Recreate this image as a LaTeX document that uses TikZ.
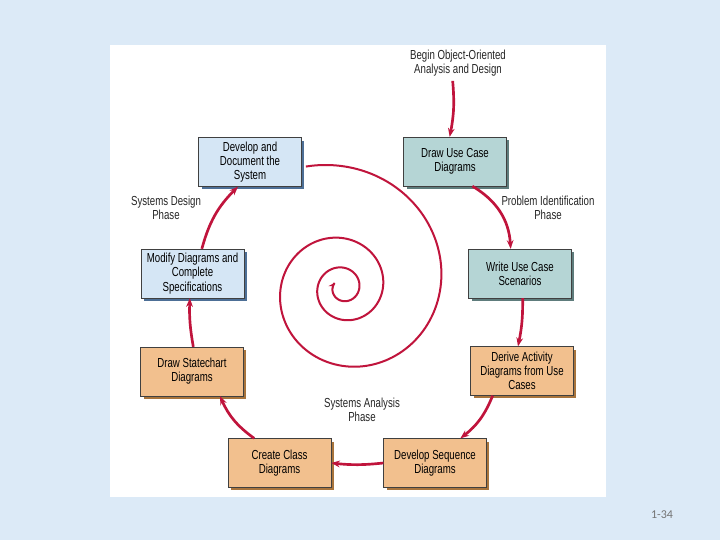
\documentclass[tikz,border=0pt]{standalone}
\usepackage{fontspec}
\setmainfont{Liberation Sans}[FakeStretch=0.74]
\newfontfamily\slidefont{Carlito}
\usepackage{tikz}
\usetikzlibrary{arrows.meta,positioning,calc,shadows}
\definecolor{slidebg}{HTML}{DCEAF7}
\definecolor{spiralred}{HTML}{C0143C}
\definecolor{designfill}{HTML}{D5E6F5}
\definecolor{designshade}{HTML}{4D6F96}
\definecolor{problemfill}{HTML}{B5D5D5}
\definecolor{problemshade}{HTML}{5E7C7C}
\definecolor{analysisfill}{HTML}{F2C08E}
\definecolor{analysisshade}{HTML}{A8743C}
\tikzset{
  >=Stealth,
  every node/.append style={font=\fontsize{9.8}{10.6}\selectfont},
}
\tikzset{
  phasebox/.style={draw=black!75, line width=0.5pt, align=center, inner sep=2pt,
    minimum width=77pt, minimum height=36.5pt},
  flow/.style={-{Stealth[length=6.5pt,width=5pt]}, line width=2pt, draw=spiralred},
  phaselabel/.style={align=center, text=black!85}
}
\begin{document}
\begin{tikzpicture}[x=0.75pt, y=-0.75pt,
  design/.style={phasebox, fill=designfill,
    drop shadow={shadow xshift=2.3pt, shadow yshift=-2.3pt, fill=designshade, opacity=1}},
  problem/.style={phasebox, fill=problemfill,
    drop shadow={shadow xshift=2.3pt, shadow yshift=-2.3pt, fill=problemshade, opacity=1}},
  analysis/.style={phasebox, fill=analysisfill,
    drop shadow={shadow xshift=2.3pt, shadow yshift=-2.3pt, fill=analysisshade, opacity=1}}
]
\useasboundingbox (0,0) rectangle (720,540);

% Slide and white panel
\fill[slidebg] (0,0) rectangle (720,540);
\fill[white] (110,45) rectangle (606,497);

% Spiral in the middle
\draw[spiralred, line width=1.5pt, -{Stealth[length=5pt,width=4pt]}]
  plot[domain=0:1040, samples=400, smooth]
  ({343+127*0.8^(\x/90)*cos(-107+\x)}, {288+127*0.8^(\x/90)*sin(-107+\x)});

% Phase boxes - clockwise from the top
\node[problem] (usecase) at (455,161.5) {Draw Use Case\\Diagrams};
\node[problem] (scenario) at (520,273.5) {Write Use Case\\Scenarios};
\node[analysis] (activity) at (522,371) {Derive Activity\\Diagrams from Use\\Cases};
\node[analysis] (sequence) at (435,463) {Develop Sequence\\Diagrams};
\node[analysis] (classdia) at (279.5,463) {Create Class\\Diagrams};
\node[analysis] (statechart) at (192,371.5) {Draw Statechart\\Diagrams};
\node[design] (modify) at (192.5,273.5) {Modify Diagrams and\\Complete\\Specifications};
\node[design] (document) at (250,162) {Develop and\\Document the\\System};

% Phase labels
\node[phaselabel] (begin) at (458,63) {Begin Object-Oriented\\Analysis and Design};
\node[phaselabel] (problemph) at (548,208) {Problem Identification\\Phase};
\node[phaselabel] (designph) at (166,208) {Systems Design\\Phase};
\node[phaselabel] (analysisph) at (362,410) {Systems Analysis\\Phase};

% Connectors
\draw[flow] ([xshift=-4pt]begin.south) to[bend left=8] ([xshift=-4pt]usecase.north);
\draw[flow] ([xshift=13pt]usecase.south) to[bend left=28] ([xshift=-7pt]scenario.north);
\draw[flow] ([xshift=2pt]scenario.south) to[bend left=6] ([xshift=-3pt]activity.north);
\draw[flow] ([xshift=-22pt]activity.south) to[bend left=15] ([xshift=19pt]sequence.north);
\draw[flow] (sequence.west) to[bend left=6] (classdia.east);
\draw[flow] ([xshift=-19pt]classdia.north) to[bend left=15] ([xshift=21pt]statechart.south);
\draw[flow] ([xshift=1pt]statechart.north) to[bend left=6] ([xshift=-2pt]modify.south);
\draw[flow] ([xshift=7pt]modify.north) to[bend left=15] ([xshift=-9pt]document.south);

% Slide number
\node[font=\slidefont\fontsize{9}{10}\selectfont, text=black!55] (slideno) at (662,515) {1-34};
\end{tikzpicture}
\end{document}
